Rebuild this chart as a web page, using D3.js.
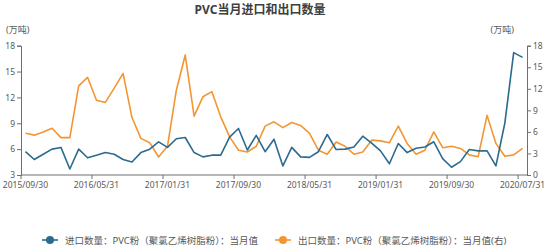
<!DOCTYPE html>
<html>
<head>
<meta charset="utf-8">
<script src="https://cdn.jsdelivr.net/npm/d3@7/dist/d3.min.js"></script>
<style>
  body { margin: 0; background: #fff; }
  svg text { font-family: "Noto Sans", "Noto Sans CJK SC", sans-serif; fill: #595959; }
</style>
</head>
<body>
<svg id="chart" width="550" height="249"></svg>
<script>
// 月份（2020年1、2月缺）
const monthList = [];
for (let y = 2015; y <= 2020; y++) {
    for (let m = 1; m <= 12; m++) {
        if (y === 2015 && m < 9) continue;
        if (y === 2020 && (m < 3 || m > 7)) continue;
        const d = new Date(y, m, 0).getDate();
        monthList.push(`${y}/${String(m).padStart(2, "0")}/${d}`);
    }
}

// 进口数量（左轴，万吨）
const importVals = [5.7, 4.8, 5.4, 6.0, 6.2, 3.7, 6.0, 5.0, 5.3, 5.6,
    5.4, 4.8, 4.5, 5.6, 6.0, 6.85, 6.2, 7.2, 7.35, 5.6,
    5.1, 5.3, 5.3, 7.4, 8.4, 5.9, 7.6, 5.7, 7.15, 4.05,
    6.2, 5.1, 5.05, 5.7, 7.7, 5.95, 6.0, 6.25, 7.5, 6.7,
    5.8, 4.3, 6.65, 5.6, 6.1, 6.25, 6.85, 4.9, 3.9, 4.55,
    5.95, 5.8, 5.8, 4.05, 9.0, 17.2, 16.65];

// 出口数量（右轴，万吨）
const exportVals = [5.8, 5.55, 6.0, 6.5, 5.2, 5.2, 12.4, 13.6, 10.4, 10.1,
    12.1, 14.15, 8.0, 5.1, 4.5, 2.5, 4.0, 11.8, 16.7, 8.2,
    10.9, 11.6, 8.1, 5.3, 3.45, 3.2, 4.0, 6.8, 7.4, 6.6,
    7.3, 6.9, 5.8, 3.45, 2.9, 4.6, 4.0, 2.9, 3.2, 4.85,
    4.75, 4.5, 6.8, 4.4, 2.9, 3.45, 6.0, 3.8, 4.0, 3.7,
    2.8, 2.55, 8.3, 4.4, 2.6, 2.8, 3.7];

const leftTicks = [3, 6, 9, 12, 15, 18];
const rightTicks = [0, 3, 6, 9, 12, 15, 18];
const seriesNames = ["进口数量：PVC粉（聚氯乙烯树脂粉）：当月值", "出口数量：PVC粉（聚氯乙烯树脂粉）：当月值(右)"];
const colors = ["#2b6b8f", "#f39632"];

const svg = d3.select("#chart");
const plotL = 21, plotR = 527, plotT = 45.7, plotB = 175;
const axisColor = "#6e6e6e";

const x = d3.scaleBand().domain(d3.range(monthList.length)).range([plotL, plotR]).padding(0);
const yL = d3.scaleLinear().domain([3, 18]).range([plotB, plotT]);
const yR = d3.scaleLinear().domain([0, 18]).range([plotB, plotT]);

// 标题
svg.append("text")
    .attr("x", 260).attr("y", 14)
    .attr("text-anchor", "middle")
    .attr("font-size", 12).attr("font-weight", "bold")
    .style("fill", "#404040")
    .text("PVC当月进口和出口数量");

svg.append("text").attr("x", 6).attr("y", 33).attr("font-size", 9).text("(万吨)");
svg.append("text").attr("x", 514).attr("y", 33).attr("font-size", 9)
    .attr("text-anchor", "end").text("(万吨)");

// 左轴
const gL = svg.append("g").attr("transform", `translate(${plotL},0)`)
    .call(d3.axisLeft(yL).tickValues(leftTicks).tickSize(4).tickPadding(2));
// 右轴
const gR = svg.append("g").attr("transform", `translate(${plotR},0)`)
    .call(d3.axisRight(yR).tickValues(rightTicks).tickSize(4).tickPadding(2));
[gL, gR].forEach(g => {
    g.select(".domain").attr("stroke", axisColor);
    g.selectAll(".tick line").attr("stroke", axisColor);
    g.selectAll(".tick text").attr("font-size", 8.5).style("fill", "#595959");
});

// 横轴：刻度在类目边界，标签在类目中间
const xTickIdx = d3.range(0, monthList.length, 8);
const gX = svg.append("g");
gX.append("line")
    .attr("x1", plotL).attr("x2", plotR)
    .attr("y1", plotB).attr("y2", plotB)
    .attr("stroke", axisColor);
gX.selectAll(".xt")
    .data(xTickIdx)
    .join("line")
    .attr("x1", d => x(d)).attr("x2", d => x(d))
    .attr("y1", plotB).attr("y2", plotB + 4)
    .attr("stroke", axisColor);
gX.selectAll(".xl")
    .data(xTickIdx)
    .join("text")
    .attr("x", d => x(d) + x.bandwidth() / 2)
    .attr("y", 188)
    .attr("text-anchor", "middle")
    .attr("font-size", 8.5)
    .text(d => monthList[d]);

// 折线
const lineL = d3.line().x((d, i) => x(i) + x.bandwidth() / 2).y(d => yL(d));
const lineR = d3.line().x((d, i) => x(i) + x.bandwidth() / 2).y(d => yR(d));
svg.append("path").datum(exportVals)
    .attr("d", lineR).attr("fill", "none")
    .attr("stroke", colors[1]).attr("stroke-width", 1.6).attr("stroke-linejoin", "round");
svg.append("path").datum(importVals)
    .attr("d", lineL).attr("fill", "none")
    .attr("stroke", colors[0]).attr("stroke-width", 1.6).attr("stroke-linejoin", "round");

// 图例
const legendX = [42, 275];
const lg = svg.selectAll(".lg")
    .data(seriesNames)
    .join("g")
    .attr("transform", (d, i) => `translate(${legendX[i]},240)`);
lg.append("line").attr("x1", 0).attr("x2", 16).attr("y1", 0).attr("y2", 0)
    .attr("stroke", (d, i) => colors[i]).attr("stroke-width", 1.6);
lg.append("circle").attr("cx", 8).attr("cy", 0).attr("r", 4)
    .attr("fill", (d, i) => colors[i]);
lg.append("text").attr("x", 23).attr("y", 3.5)
    .attr("font-size", 9.5)
    .text(d => d);
</script>
</body>
</html>
